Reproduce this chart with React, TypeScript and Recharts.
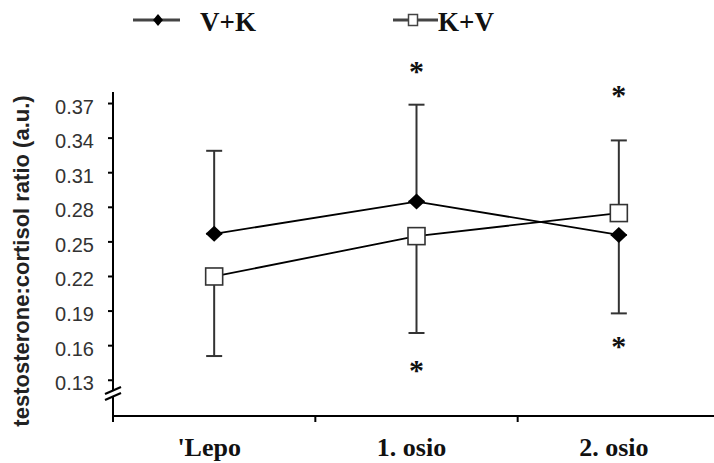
import { LineChart, Line, XAxis, YAxis, ErrorBar, ReferenceDot } from 'recharts';

const phases = ["'Lepo", '1. osio', '2. osio'];
const vkRatio = [0.257, 0.285, 0.256];
const kvRatio = [0.22, 0.255, 0.275];
// one-sided error bars: [below, above]
const vkErr = [[0, 0.072], [0, 0.084], [0.068, 0]];
const kvErr = [[0.069, 0], [0.084, 0], [0, 0.063]];
const yTicks = [0.13, 0.16, 0.19, 0.22, 0.25, 0.28, 0.31, 0.34, 0.37];
const breakValue = 0.119;
const starPhases = ['1. osio', '1. osio', '2. osio', '2. osio'];
const starValues = [0.402, 0.142, 0.381, 0.163];

const data = phases.map((name, i) => ({
  name,
  vk: vkRatio[i],
  kv: kvRatio[i],
  vkErr: vkErr[i],
  kvErr: kvErr[i],
}));

const serif = '"Liberation Serif", "Times New Roman", serif';
const sans = '"Liberation Sans", Arial, sans-serif';

const YTick = ({ x, y, payload }: any) => {
  if (payload.value === breakValue) {
    return (
      <g>
        <polygon points={`${x - 8},${y + 1} ${x + 8},${y - 6} ${x + 8},${y} ${x - 8},${y + 7}`} fill="#fff" />
        <line x1={x - 8} y1={y + 1} x2={x + 8} y2={y - 6} stroke="#000" strokeWidth={2.2} />
        <line x1={x - 8} y1={y + 7} x2={x + 8} y2={y} stroke="#000" strokeWidth={2.2} />
      </g>
    );
  }
  return (
    <g>
      <line x1={x - 5} y1={y} x2={x} y2={y} stroke="#000" strokeWidth={2} />
      <text x={x - 19} y={y} dy={10} textAnchor="end" fontSize={20} fontFamily={sans} fill="#333">
        {payload.value.toFixed(2)}
      </text>
    </g>
  );
};

const XTick = ({ x, y, payload }: any) => {
  const half = payload.offset || 101;
  return (
    <g>
      <line x1={x - half} y1={y} x2={x - half} y2={y + 6} stroke="#000" strokeWidth={2} />
      <text x={x - 5} y={y} dy={40} textAnchor="middle" fontSize={26} fontWeight="bold" fontFamily={serif} fill="#111">
        {payload.value}
      </text>
    </g>
  );
};

const Diamond = ({ cx, cy }: any) => (
  <polygon points={`${cx},${cy - 8} ${cx + 8.5},${cy} ${cx},${cy + 8} ${cx - 8.5},${cy}`} fill="#000" />
);

const Square = ({ cx, cy }: any) => (
  <rect x={cx - 8.5} y={cy - 8.5} width={17} height={17} fill="#fff" stroke="#333" strokeWidth={1.6} />
);

const Star = ({ cx, cy }: any) => (
  <text x={cx} y={cy + 14} textAnchor="middle" fontSize={30} fontWeight="bold" fontFamily={serif} fill="#111">
    *
  </text>
);

const Legend = () => (
  <svg width={714} height={45} style={{ position: 'absolute', left: 0, top: 0 }}>
    <line x1={133} y1={20} x2={180} y2={20} stroke="#444" strokeWidth={3} />
    <polygon points="158,14 163,20 158,26 153,20" fill="#000" />
    <text x={200} y={31} fontSize={27} fontWeight="bold" fontFamily={serif} fill="#111">V+K</text>
    <line x1={393} y1={20} x2={438} y2={20} stroke="#444" strokeWidth={3} />
    <rect x={408.5} y={14.5} width={9} height={11} fill="#fff" stroke="#444" strokeWidth={1.5} />
    <text x={438} y={31} fontSize={27} fontWeight="bold" fontFamily={serif} fill="#111">K+V</text>
  </svg>
);

export default function App() {
  return (
    <div style={{ position: 'absolute', left: 0, top: 0, width: 714, height: 463, overflow: 'hidden', background: '#fff' }}>
      <LineChart width={720} height={463} data={data} margin={{ top: 92, right: 0, left: 0, bottom: 0 }}>
        <XAxis
          dataKey="name"
          scale="band"
          interval={0}
          height={47}
          tickSize={0}
          tickMargin={0}
          tickLine={false}
          axisLine={{ stroke: '#000', strokeWidth: 2 }}
          tick={<XTick />}
        />
        <YAxis
          type="number"
          domain={[0.099, 0.38]}
          ticks={[breakValue, ...yTicks]}
          interval={0}
          allowDataOverflow
          width={113}
          tickSize={0}
          tickMargin={0}
          tickLine={false}
          axisLine={{ stroke: '#000', strokeWidth: 2 }}
          tick={<YTick />}
          label={() => (
            <text transform="translate(29,261) rotate(-90)" textAnchor="middle" fontSize={22} fontWeight="bold" fontFamily={sans} fill="#222">
              testosterone:cortisol ratio (a.u.)
            </text>
          )}
        />
        <Line dataKey="vk" stroke="#000" strokeWidth={1.8} dot={<Diamond />} activeDot={false} isAnimationActive={false}>
          <ErrorBar dataKey="vkErr" direction="y" width={8} stroke="#333" strokeWidth={2} />
        </Line>
        <Line dataKey="kv" stroke="#000" strokeWidth={1.8} dot={<Square />} activeDot={false} isAnimationActive={false}>
          <ErrorBar dataKey="kvErr" direction="y" width={8} stroke="#333" strokeWidth={2} />
        </Line>
        {starValues.map((v, i) => (
          <ReferenceDot key={i} x={starPhases[i]} y={v} r={0} ifOverflow="visible" shape={<Star />} />
        ))}
      </LineChart>
      <Legend />
    </div>
  );
}
